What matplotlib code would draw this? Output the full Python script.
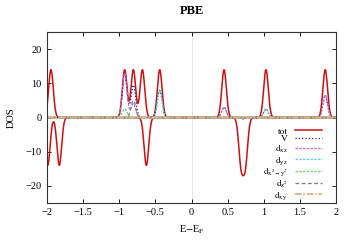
import matplotlib
matplotlib.use("Agg")
import matplotlib.pyplot as plt
import numpy as np

# peak positions (eV) and heights; curves are gaussian-broadened
sigma = 0.032
tot_up_pos = [-1.945, -0.925, -0.805, -0.68, -0.44, 0.45, 1.03, 1.85]
tot_up_h = [14, 14, 14, 14, 14, 14, 14, 14]
tot_dn_pos = [-1.99, -1.83, -0.625, 0.685, 0.745]
tot_dn_h = [-14, -14, -14, -13.2, -13.2]

V_up_pos = [-0.925, -0.805, -0.44, 0.45, 1.03, 1.85]
V_up_h = [13, 9.5, 8, 3, 2.5, 6.5]
V_dn_pos = [0.70]
V_dn_h = [-0.4]

dxz_up_pos = [-0.925, -0.805, 0.45, 1.85]
dxz_up_h = [13, 4, 3, 6.5]
dxz_dn_pos = [0.70]
dxz_dn_h = [-0.4]

dyz_up_pos = [-0.44, 1.03]
dyz_up_h = [8, 2.5]

dx2y2_up_pos = [-0.925]
dx2y2_up_h = [2.5]

dz2_up_pos = [-0.805]
dz2_up_h = [5]

dxy_up_pos = []
dxy_up_h = []

E = np.linspace(-2, 2, 1201)


def broaden(pos, h):
    y = np.zeros_like(E)
    for p, a in zip(pos, h):
        y += a * np.exp(-(E - p) ** 2 / (2 * sigma ** 2))
    return y


plt.rcParams['font.family'] = 'Liberation Serif'
plt.rcParams['mathtext.fontset'] = 'stix'
plt.rcParams['font.size'] = 7.5

fig = plt.figure(figsize=(3.56, 2.49), dpi=100)
ax = fig.add_axes([0.132, 0.185, 0.812, 0.686])

ax.axvline(0, color='#e2e2e2', lw=0.6, zorder=0)

curves = [
    ('tot', '#cc1010', '-', 1.1, (tot_up_pos, tot_up_h), (tot_dn_pos, tot_dn_h)),
    ('V', '#1c1c8c', ':', 0.9, (V_up_pos, V_up_h), (V_dn_pos, V_dn_h)),
    (r'$\mathrm{d_{xz}}$', '#c86ad2', (0, (2, 1)), 0.9, (dxz_up_pos, dxz_up_h), (dxz_dn_pos, dxz_dn_h)),
    (r'$\mathrm{d_{yz}}$', '#5cd8dc', (0, (2, 1)), 0.9, (dyz_up_pos, dyz_up_h), ([], [])),
    (r'$\mathrm{d_{x^2-y^2}}$', '#6ad46a', (0, (2, 1)), 0.9, (dx2y2_up_pos, dx2y2_up_h), ([], [])),
    (r'$\mathrm{d_{z^2}}$', '#7f7f7f', (0, (3, 2)), 0.9, (dz2_up_pos, dz2_up_h), ([], [])),
    (r'$\mathrm{d_{xy}}$', '#dcb080', (0, (4, 1, 1, 1)), 1.2, (dxy_up_pos, dxy_up_h), ([], [])),
]

for label, c, ls, lw, up, dn in curves:
    ax.plot(E, broaden(*up), color=c, ls=ls, lw=lw, label=label)
    ax.plot(E, broaden(*dn), color=c, ls=ls, lw=lw)

ax.set_xlim(-2, 2)
ax.set_ylim(-25, 25)
ax.set_xticks(np.arange(-2, 2.01, 0.5))
ax.set_xticklabels(['\u22122', '\u22121.5', '\u22121', '\u22120.5', '0', '0.5', '1', '1.5', '2'])
ax.set_yticks([-20, -10, 0, 10, 20])
ax.set_yticklabels(['\u221220', '\u221210', '0', '10', '20'])
ax.tick_params(direction='in', length=3, width=0.6, top=True, right=True, pad=4)
for s in ax.spines.values():
    s.set_linewidth(0.8)
    s.set_color('#333333')

ax.set_title('PBE', fontweight='bold', pad=13)
ax.set_ylabel('DOS', labelpad=7)
ax.set_xlabel(r'E$-$E$_\mathrm{F}$', labelpad=4)

leg = ax.legend(loc='lower right', bbox_to_anchor=(0.97, -0.025), frameon=False, markerfirst=False,
                handlelength=2.8, labelspacing=-0.1, handletextpad=0.8, borderaxespad=0.2, fontsize=6.8)

fig.savefig('out.png', dpi=100)
